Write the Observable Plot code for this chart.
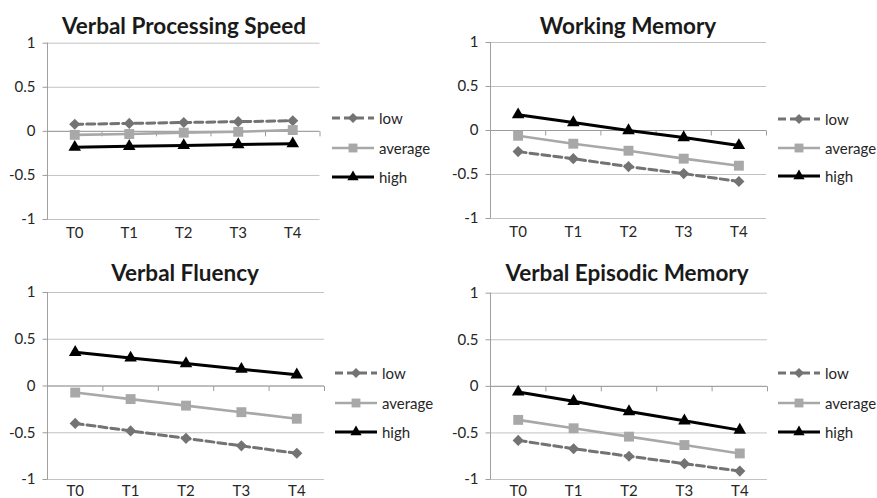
<!DOCTYPE html>
<html><head><meta charset="utf-8">
<script src="https://cdn.jsdelivr.net/npm/d3@7"></script>
<script src="https://cdn.jsdelivr.net/npm/@observablehq/plot@0.6"></script>
<style>
body{margin:0;background:#fff;}
#chart{position:relative;width:877px;height:498px;overflow:hidden;background:#fff;font-family:Lato, sans-serif;}
#chart svg{position:absolute;}
</style></head><body><div id="chart"></div>
<script>
// ---- data ----
const times = ["T0", "T1", "T2", "T3", "T4"];
const groups = ["low", "average", "high"];
const yTicks = [-1, -0.5, 0, 0.5, 1];
const titles = ["Verbal Processing Speed", "Working Memory", "Verbal Fluency", "Verbal Episodic Memory"];

const vpsLow  = [0.08, 0.09, 0.10, 0.11, 0.12];
const vpsAvg  = [-0.04, -0.03, -0.015, -0.005, 0.015];
const vpsHigh = [-0.18, -0.17, -0.16, -0.15, -0.14];

const wmLow  = [-0.24, -0.32, -0.41, -0.49, -0.58];
const wmAvg  = [-0.06, -0.15, -0.23, -0.32, -0.40];
const wmHigh = [0.18, 0.09, 0.0, -0.08, -0.17];

const vfLow  = [-0.40, -0.48, -0.56, -0.64, -0.72];
const vfAvg  = [-0.07, -0.14, -0.21, -0.28, -0.35];
const vfHigh = [0.36, 0.30, 0.24, 0.18, 0.12];

const vemLow  = [-0.58, -0.67, -0.75, -0.83, -0.91];
const vemAvg  = [-0.36, -0.45, -0.54, -0.63, -0.72];
const vemHigh = [-0.06, -0.16, -0.27, -0.37, -0.47];

const panelSeries = [
  {low: vpsLow, average: vpsAvg, high: vpsHigh},
  {low: wmLow, average: wmAvg, high: wmHigh},
  {low: vfLow, average: vfAvg, high: vfHigh},
  {low: vemLow, average: vemAvg, high: vemHigh}
];

// ---- styles & layout ----
const style = {
  low:     {stroke: "#737373", dash: "8,4", symbol: "diamond2",  d3sym: d3.symbolDiamond2,  r: 5.0, width: 3},
  average: {stroke: "#a8a8a8", dash: null,  symbol: "square2",   d3sym: d3.symbolSquare2,   r: 6.3, width: 2.6},
  high:    {stroke: "#000000", dash: null,  symbol: "triangle2", d3sym: d3.symbolTriangle2, r: 6.0, width: 3}
};
const layout = [
  {left: 0,   top: 0,   w: 440, h: 250, mL: 47, mR: 120.5, mT: 42.7, mB: 31, pad: 8, tx: 184, ty: 25,  lx: 332, ly: [118, 148, 177]},
  {left: 440, top: 0,   w: 437, h: 250, mL: 50, mR: 111,   mT: 42,   mB: 32, pad: 8, tx: 628, ty: 25,  lx: 778, ly: [119, 148, 176]},
  {left: 0,   top: 250, w: 440, h: 248, mL: 47, mR: 116,   mT: 42,   mB: 19, pad: 6, tx: 185, ty: 272, lx: 335, ly: [373, 403, 432]},
  {left: 440, top: 250, w: 437, h: 248, mL: 50, mR: 110,   mT: 42.7, mB: 19, pad: 6, tx: 627, ty: 272, lx: 778, ly: [373, 403, 432]}
];

const xDomain = [-0.5, times.length - 0.5];
const boundaries = times.map((_, i) => i + 0.5);
const vTick = {draw(ctx) { ctx.moveTo(0, 0); ctx.lineTo(0, 5); }};
const hTick = {draw(ctx) { ctx.moveTo(0, 0); ctx.lineTo(-5, 0); }};

const chart = document.getElementById("chart");

panelSeries.forEach((series, p) => {
  const L = layout[p];
  const rows = times.flatMap((t, i) => groups.map(g => ({i, t, group: g, value: series[g][i]})));
  const marks = [
    Plot.ruleY(yTicks, {stroke: "#c2c2c2", strokeWidth: 1}),
    Plot.ruleX([xDomain[0]], {stroke: "#a0a0a0", strokeWidth: 1}),
    Plot.ruleY([0], {stroke: "#9c9c9c", strokeWidth: 1}),
    Plot.dot(boundaries, {x: d => d, y: () => 0, symbol: vTick, stroke: "#9c9c9c", fill: "none", strokeWidth: 1}),
    Plot.dot(yTicks, {x: () => xDomain[0], y: d => d, symbol: hTick, stroke: "#9c9c9c", fill: "none", strokeWidth: 1})
  ];
  groups.forEach(g => {
    const s = style[g];
    const data = rows.filter(d => d.group === g);
    marks.push(Plot.line(data, {x: "i", y: "value", stroke: s.stroke, strokeWidth: s.width, strokeDasharray: s.dash || undefined}));
  });
  groups.forEach(g => {
    const s = style[g];
    const data = rows.filter(d => d.group === g);
    marks.push(Plot.dot(data, {x: "i", y: "value", symbol: s.symbol, r: s.r, fill: s.stroke, stroke: "none"}));
  });
  const svg = Plot.plot({
    width: L.w, height: L.h,
    marginLeft: L.mL, marginRight: L.mR, marginTop: L.mT, marginBottom: L.mB,
    style: {fontFamily: "Lato, sans-serif", fontSize: "15px", color: "#262626", background: "transparent", overflow: "visible"},
    x: {type: "linear", domain: xDomain, ticks: times.map((_, i) => i), tickFormat: i => times[i], tickSize: 0, tickPadding: L.pad, label: null},
    y: {domain: [-1, 1], ticks: yTicks, tickFormat: d => String(d), tickSize: 0, tickPadding: 12, label: null},
    marks
  });
  svg.style.left = L.left + "px";
  svg.style.top = L.top + "px";
  chart.appendChild(svg);
});

// overlay: titles and legends
const over = d3.select(chart).append("svg")
  .attr("width", 877).attr("height", 498)
  .style("left", "0px").style("top", "0px")
  .style("font-family", "Lato, sans-serif");

layout.forEach((L, p) => {
  over.append("text")
    .attr("x", L.tx).attr("y", L.ty)
    .attr("text-anchor", "middle").attr("dominant-baseline", "central")
    .attr("font-size", 22.5).attr("font-weight", "bold").attr("fill", "#1a1a1a")
    .text(titles[p]);
  groups.forEach((g, k) => {
    const s = style[g];
    const y = L.ly[k];
    const gg = over.append("g");
    gg.append("line")
      .attr("x1", L.lx).attr("x2", L.lx + 42).attr("y1", y).attr("y2", y)
      .attr("stroke", s.stroke).attr("stroke-width", s.width)
      .attr("stroke-dasharray", s.dash);
    gg.append("path")
      .attr("transform", `translate(${L.lx + 21},${y})`)
      .attr("d", d3.symbol(s.d3sym, Math.PI * s.r * s.r * 0.8)())
      .attr("fill", s.stroke);
    gg.append("text")
      .attr("x", L.lx + 47).attr("y", y)
      .attr("dominant-baseline", "central")
      .attr("font-size", 15).attr("fill", "#262626")
      .text(g);
  });
});
</script></body></html>
